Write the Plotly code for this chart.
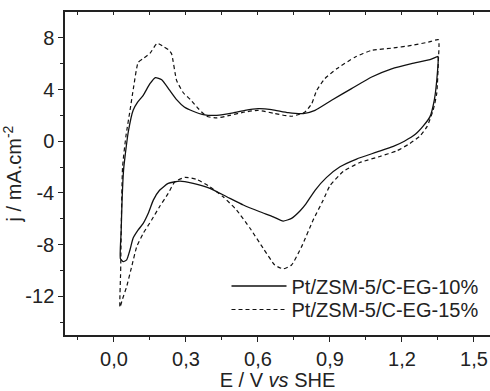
import plotly.graph_objects as go

# Pt/ZSM-5/C-EG-10% (solid)
e10 = [0.027, 0.030, 0.034, 0.040, 0.046, 0.060, 0.080, 0.098, 0.122, 0.150, 0.173, 0.199, 0.230,
       0.262, 0.293, 0.330, 0.372, 0.428, 0.497, 0.546, 0.601, 0.657, 0.726, 0.789, 0.838, 0.907,
       0.990, 1.074, 1.157, 1.240, 1.317, 1.350,
       1.351, 1.345, 1.335, 1.317, 1.290, 1.257, 1.210, 1.164, 1.094, 1.011, 0.942, 0.886, 0.838,
       0.800, 0.775, 0.740, 0.705, 0.664, 0.608, 0.539, 0.470, 0.400, 0.330, 0.275, 0.226, 0.190,
       0.164, 0.143, 0.122, 0.101, 0.080, 0.067, 0.053, 0.039, 0.027]
j10 = [-9.1, -7.0, -4.5, -2.24, -1.21, 0.75, 2.4, 3.0, 3.55, 4.45, 4.92, 4.76, 4.0,
       3.2, 2.65, 2.32, 2.06, 2.00, 2.19, 2.39, 2.52, 2.45, 2.21, 2.14, 2.39, 3.17,
       4.07, 4.97, 5.60, 6.00, 6.31, 6.56,
       6.5, 4.7, 3.2, 1.9, 1.2, 0.55, 0.0, -0.4, -0.85, -1.38, -1.98, -2.8, -3.8,
       -4.85, -5.4, -5.97, -6.18, -5.85, -5.46, -4.94, -4.3, -3.65, -3.27, -3.09, -3.27, -3.8,
       -4.56, -5.58, -6.36, -6.87, -7.5, -8.4, -9.19, -9.32, -9.1]

# Pt/ZSM-5/C-EG-15% (dashed)
e15 = [0.025, 0.028, 0.031, 0.036, 0.050, 0.067, 0.082, 0.101, 0.122, 0.150, 0.180, 0.205, 0.226,
       0.240, 0.261, 0.289, 0.320, 0.350, 0.386, 0.428, 0.483, 0.546, 0.601, 0.670, 0.740, 0.796,
       0.824, 0.845, 0.879, 0.928, 1.004, 1.074, 1.157, 1.240, 1.310, 1.352,
       1.352, 1.345, 1.330, 1.305, 1.275, 1.233, 1.178, 1.108, 1.025, 0.955, 0.900, 0.872, 0.830,
       0.782, 0.740, 0.705, 0.670, 0.622, 0.567, 0.511, 0.455, 0.400, 0.345, 0.296, 0.254, 0.226,
       0.190, 0.157, 0.122, 0.095, 0.074, 0.053, 0.036, 0.025]
j15 = [-12.85, -10.0, -6.0, -1.98, 0.4, 2.39, 4.2, 6.1, 6.4, 6.8, 7.57, 7.34, 7.1,
       6.77, 4.71, 3.75, 3.2, 2.55, 1.93, 1.80, 2.00, 2.26, 2.39, 2.14, 1.93, 2.26,
       2.9, 3.94, 4.84, 5.6, 6.5, 7.03, 7.2, 7.41, 7.67, 7.85,
       6.3, 3.7, 2.39, 1.15, 0.4, -0.18, -0.75, -1.18, -1.65, -2.35, -3.45, -4.56, -6.1,
       -8.16, -9.58, -9.88, -9.58, -8.29, -6.74, -5.33, -4.3, -3.53, -2.96, -2.8, -3.14, -4.04,
       -5.07, -6.1, -7.13, -8.16, -9.7, -11.25, -12.2, -12.85]

names = ["Pt/ZSM-5/C-EG-10%", "Pt/ZSM-5/C-EG-15%"]

x_range = [-0.204, 1.567]
y_range = [-15, 10]
x_ticks = [0.0, 0.3, 0.6, 0.9, 1.2, 1.5]
x_labels = ["0,0", "0,3", "0,6", "0,9", "1,2", "1,5"]
y_ticks = [-12, -8, -4, 0, 4, 8]
y_labels = ["-12", "-8", "-4", "0", "4", "8"]

FONT = "Liberation Sans, Arial, sans-serif"
AX = "#222222"
FS = 20

fig = go.Figure()
fig.add_trace(go.Scatter(x=e10, y=j10, mode="lines", name=names[0], legend="legend",
                         line=dict(color="#111111", width=1.3, shape="spline", smoothing=0.5)))
fig.add_trace(go.Scatter(x=e15, y=j15, mode="lines", name=names[1], legend="legend2",
                         line=dict(color="#111111", width=1.2, dash="4px,3px", shape="spline", smoothing=0.5)))
# invisible trace for the top axis
fig.add_trace(go.Scatter(x=[x_range[0]], y=[y_range[0]], xaxis="x2", mode="markers",
                         marker=dict(opacity=0), showlegend=False, hoverinfo="skip"))

leg = dict(xanchor="left", yanchor="middle", bgcolor="rgba(0,0,0,0)",
           font=dict(size=FS, family=FONT, color="#222222"), itemwidth=55)

fig.update_layout(
    width=490, height=391,
    margin=dict(l=65, r=0, t=12, b=56),
    paper_bgcolor="white", plot_bgcolor="white",
    font=dict(family=FONT, size=FS, color="#222222"),
    showlegend=True,
    legend=dict(leg, x=0.38, y=(335 - 286) / 323),
    legend2=dict(leg, x=0.38, y=(335 - 309.5) / 323),
    xaxis=dict(range=x_range, tickvals=x_ticks, ticktext=x_labels,
               showgrid=False, zeroline=False, showline=True, linecolor=AX, linewidth=1.5,
               ticks="outside", ticklen=5, tickwidth=1.2, tickcolor=AX,
               minor=dict(tickvals=[-0.15, 0.15, 0.45, 0.75, 1.05, 1.35], ticks="outside",
                          ticklen=3, tickwidth=1.2, tickcolor=AX),
               title=dict(text="E / V <i>vs</i> SHE", font=dict(size=FS, family=FONT), standoff=2),
               tickfont=dict(size=FS, family=FONT)),
    xaxis2=dict(range=x_range, overlaying="x", side="top", showticklabels=False,
                showgrid=False, zeroline=False, showline=True, linecolor=AX, linewidth=1.5,
                tickvals=[-0.15, 0.0, 0.15, 0.3, 0.45, 0.6, 0.75, 0.9, 1.05, 1.2, 1.35, 1.5],
                ticks="inside", ticklen=3, tickwidth=1.2, tickcolor=AX),
    yaxis=dict(range=y_range, tickvals=y_ticks, ticktext=y_labels,
               showgrid=False, zeroline=False, showline=True, linecolor=AX, linewidth=1.5,
               ticks="outside", ticklen=5, tickwidth=1.2, tickcolor=AX,
               minor=dict(tickvals=[-14, -10, -6, -2, 2, 6], ticks="outside",
                          ticklen=3, tickwidth=1.2, tickcolor=AX),
               title=dict(text="j / mA.cm<sup>-2</sup>", font=dict(size=FS, family=FONT), standoff=4),
               tickfont=dict(size=FS, family=FONT)),
)

fig.write_html("out.html")
